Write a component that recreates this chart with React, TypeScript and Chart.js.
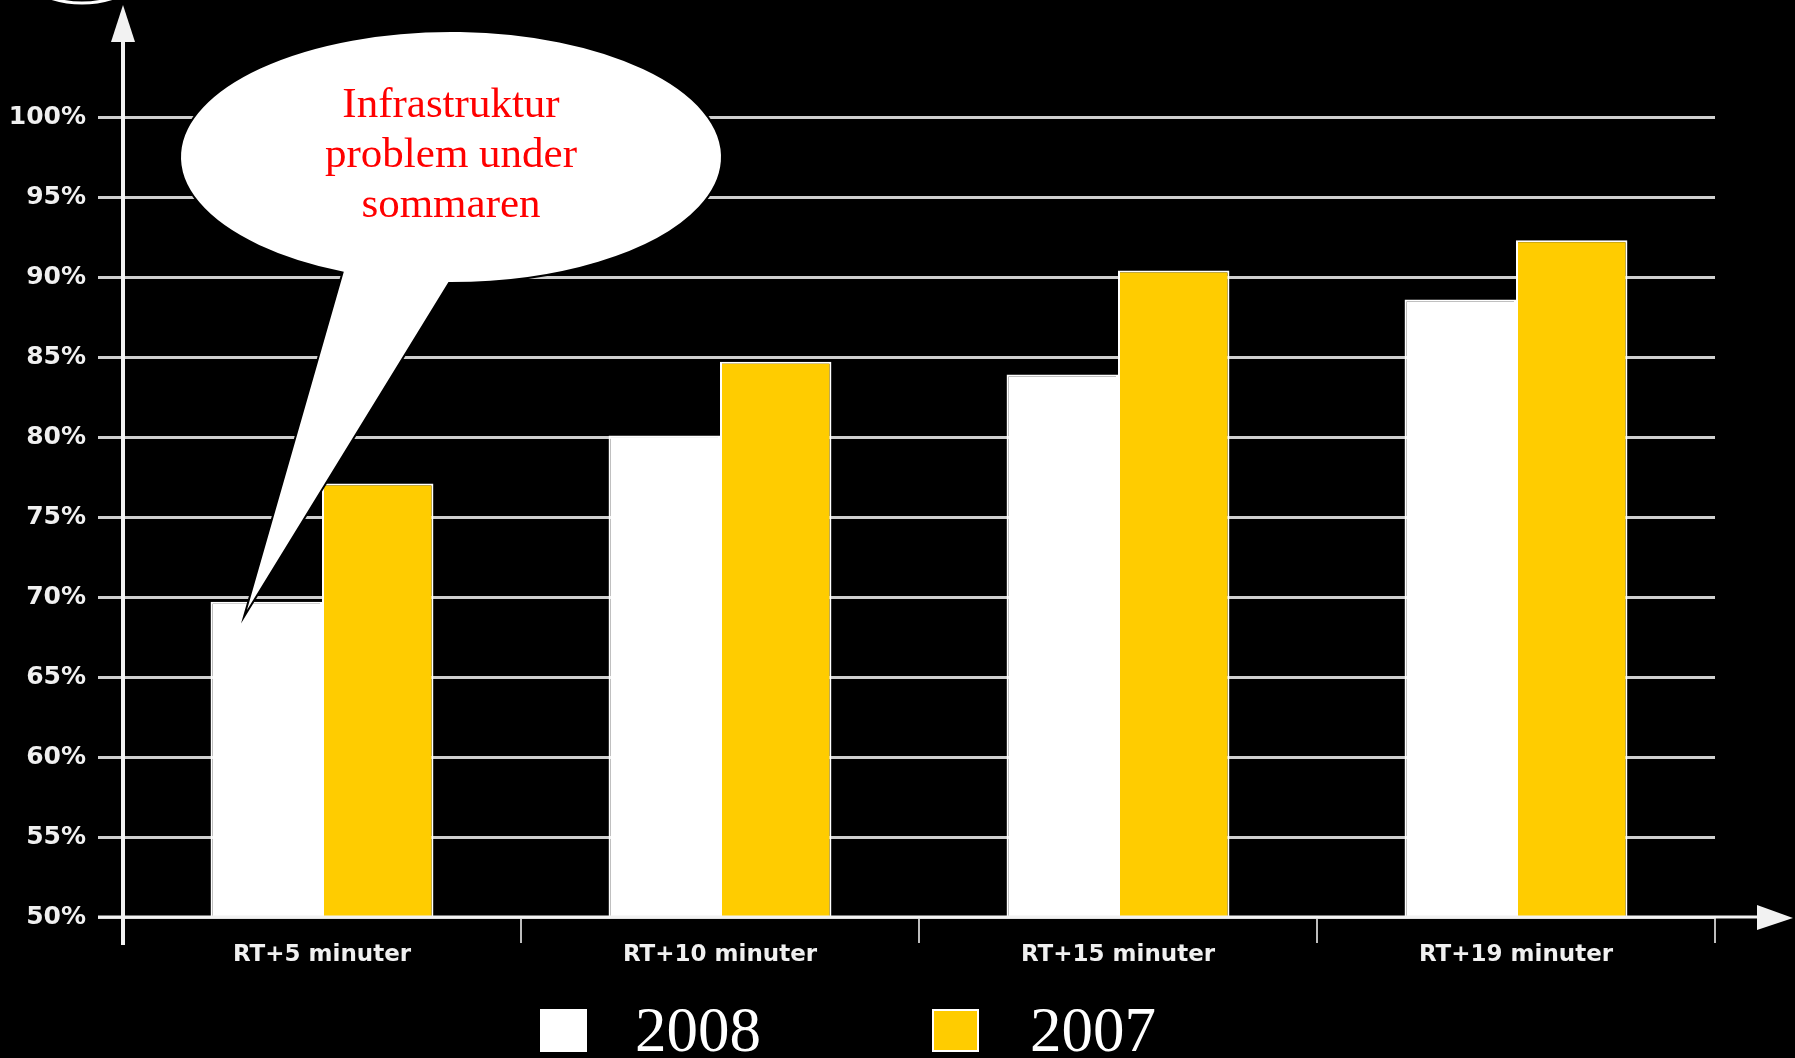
import React, { useEffect, useRef } from "react";
import { Chart, registerables } from "chart.js";

Chart.register(...registerables);

const categories = ["RT+5 minuter", "RT+10 minuter", "RT+15 minuter", "RT+19 minuter"];
const seriesNames = ["2008", "2007"];
const values2008 = [69.7, 80.1, 83.9, 88.6];
const values2007 = [77.1, 84.7, 90.4, 92.3];
const seriesColors = ["#ffffff", "#ffcc00"];
const yMin = 50;
const yMax = 100;
const yStep = 5;
const calloutLines = ["Infrastruktur", "problem under", "sommaren"];

const decorPlugin = {
  id: "decor",
  afterDraw(chart: any) {
    const ctx = chart.ctx;
    const area = chart.chartArea;
    ctx.save();

    // partial ring top-left
    ctx.strokeStyle = "#ffffff";
    ctx.lineWidth = 3;
    ctx.beginPath();
    ctx.arc(82, -100, 103, 0, Math.PI);
    ctx.stroke();

    // y axis line with arrow
    ctx.strokeStyle = "#f2f2f2";
    ctx.fillStyle = "#f2f2f2";
    ctx.lineWidth = 4;
    ctx.beginPath();
    ctx.moveTo(area.left, area.bottom + 28);
    ctx.lineTo(area.left, 38);
    ctx.stroke();
    ctx.beginPath();
    ctx.moveTo(area.left, 5);
    ctx.lineTo(area.left - 12, 42);
    ctx.lineTo(area.left + 12, 42);
    ctx.closePath();
    ctx.fill();

    // x axis line with arrow
    ctx.lineWidth = 3;
    ctx.beginPath();
    ctx.moveTo(area.left - 25, area.bottom);
    ctx.lineTo(1765, area.bottom);
    ctx.stroke();
    ctx.beginPath();
    ctx.moveTo(1793, area.bottom + 1);
    ctx.lineTo(1757, area.bottom - 12);
    ctx.lineTo(1757, area.bottom + 13);
    ctx.closePath();
    ctx.fill();

    // callout bubble
    const bar = chart.getDatasetMeta(0).data[0];
    const tipX = bar.x - bar.width * 0.2;
    const tipY = bar.y + 15;
    const cx = 451, cy = 157, rx = 271, ry = 126;
    ctx.fillStyle = "#ffffff";
    ctx.strokeStyle = "#000000";
    ctx.lineWidth = 2;
    const a1 = Math.atan2((272 - cy) / ry, (343 - cx) / rx);
    const a2 = Math.atan2((283 - cy) / ry, (449 - cx) / rx);
    ctx.beginPath();
    ctx.ellipse(cx, cy, rx, ry, 0, a1, a2 + Math.PI * 2, false);
    ctx.lineTo(tipX, tipY);
    ctx.closePath();
    ctx.fill();
    ctx.stroke();

    ctx.fillStyle = "#ff0000";
    ctx.font = "43px 'Liberation Serif', 'Times New Roman', serif";
    ctx.textAlign = "center";
    ctx.textBaseline = "alphabetic";
    calloutLines.forEach((t, i) => ctx.fillText(t, cx, 117 + i * 50));

    // legend
    const legendBoxes = [
      { x: 541, text: 635 },
      { x: 933, text: 1030 },
    ];
    ctx.font = "63px 'Liberation Serif', 'Times New Roman', serif";
    ctx.textAlign = "left";
    seriesNames.forEach((name, i) => {
      const p = legendBoxes[i];
      ctx.fillStyle = seriesColors[i];
      ctx.fillRect(p.x, 1010, 45, 41);
      ctx.strokeStyle = "#ffffff";
      ctx.lineWidth = 2;
      ctx.strokeRect(p.x, 1010, 45, 41);
      ctx.fillStyle = "#ffffff";
      ctx.fillText(name, p.text, 1051);
    });

    ctx.restore();
  },
};

export default function App() {
  const ref = useRef<HTMLCanvasElement | null>(null);
  useEffect(() => {
    if (!ref.current) return;
    const chart = new Chart(ref.current, {
      type: "bar",
      data: {
        labels: categories,
        datasets: [
          {
            label: seriesNames[0],
            data: values2008,
            backgroundColor: seriesColors[0],
            borderColor: "#ffffff",
            borderWidth: 2,
            borderSkipped: false,
            categoryPercentage: 0.56,
            barPercentage: 1,
          },
          {
            label: seriesNames[1],
            data: values2007,
            backgroundColor: seriesColors[1],
            borderColor: "#ffffff",
            borderWidth: 2,
            borderSkipped: false,
            categoryPercentage: 0.56,
            barPercentage: 1,
          },
        ],
      },
      options: {
        animation: false,
        responsive: true,
        maintainAspectRatio: false,
        layout: { padding: { top: 117, right: 80, left: 0, bottom: 0 } },
        plugins: { legend: { display: false }, tooltip: { enabled: false } },
        scales: {
          x: {
            offset: true,
            afterFit: (s: any) => {
              s.height = 141;
            },
            border: { display: false },
            grid: {
              offset: true,
              drawOnChartArea: false,
              drawTicks: true,
              tickLength: 26,
              color: "#bdbdbd",
              lineWidth: 2,
            },
            ticks: {
              color: "#f0f0f0",
              padding: -2,
              font: { family: "'DejaVu Sans'", size: 23, weight: "bold" },
            },
          },
          y: {
            min: yMin,
            max: yMax,
            afterFit: (s: any) => {
              s.width = 123;
            },
            border: { display: false },
            grid: {
              color: "#cfcfcf",
              lineWidth: 3,
              tickLength: 25,
              drawTicks: true,
            },
            ticks: {
              stepSize: yStep,
              color: "#f0f0f0",
              padding: 12,
              font: { family: "'DejaVu Sans'", size: 25, weight: "bold" },
              callback: (v: any) => v + "%",
            },
          },
        },
      },
      plugins: [decorPlugin],
    });
    return () => chart.destroy();
  }, []);

  return (
    <div
      style={{
        position: "fixed",
        left: 0,
        top: 0,
        width: 1795,
        height: 1058,
        background: "#000000",
      }}
    >
      <canvas ref={ref} />
    </div>
  );
}
